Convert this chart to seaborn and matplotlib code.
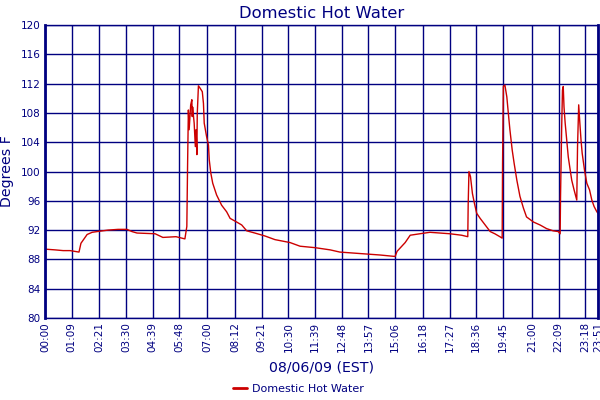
import seaborn as sns
import matplotlib.pyplot as plt
import pandas as pd

# minutes after midnight
minutes = [0, 26, 47, 65, 88, 93, 101, 109, 122, 135, 163, 189, 212, 225, 238, 285, 305, 339, 362,
           367, 369, 371, 373, 377, 380, 381, 382, 386, 389, 391, 393, 394, 397, 401, 407, 410, 412,
           418, 423, 425, 429, 434, 444, 457, 470, 479, 496, 509, 522, 543, 569, 595, 634, 660, 699,
           738, 763, 815, 867, 906, 911, 932, 945, 970, 996, 1048, 1078, 1094, 1095, 1097, 1101, 1106,
           1111, 1117, 1126, 1139, 1152, 1164, 1177, 1183, 1184, 1186, 1190, 1195, 1199, 1203, 1209,
           1214, 1221, 1229, 1238, 1246, 1264, 1281, 1298, 1315, 1328, 1333, 1334, 1337, 1339, 1341,
           1343, 1346, 1350, 1354, 1359, 1363, 1369, 1376, 1378, 1381, 1384, 1387, 1390, 1396, 1402,
           1409, 1415, 1421, 1428, 1431]
temps = [89.4, 89.3, 89.2, 89.2, 89.0, 90.2, 90.8, 91.4, 91.7, 91.8, 92.0, 92.1, 92.1, 91.8, 91.6,
         91.5, 91.0, 91.1, 90.8, 92.5, 101.1, 108.4, 105.7, 109.1, 109.8, 107.5, 108.8, 106.6, 103.4,
         105.7, 102.3, 107.9, 111.7, 111.4, 110.9, 109.3, 106.6, 104.8, 103.6, 101.6, 99.8, 98.4, 96.8,
         95.4, 94.5, 93.6, 93.1, 92.7, 91.9, 91.6, 91.2, 90.7, 90.3, 89.8, 89.6, 89.3, 89.0, 88.8, 88.6,
         88.4, 89.1, 90.3, 91.3, 91.5, 91.7, 91.5, 91.3, 91.1, 95.4, 100.0, 99.3, 97.0, 95.7, 94.3,
         93.6, 92.7, 91.8, 91.5, 91.1, 90.9, 101.1, 111.6, 111.8, 110.2, 107.9, 105.7, 102.9, 101.1,
         98.8, 96.6, 95.0, 93.8, 93.1, 92.7, 92.2, 91.9, 91.8, 91.5, 96.6, 106.1, 111.1, 111.6, 108.8,
         106.6, 104.3, 102.0, 100.2, 98.8, 97.5, 96.1, 103.4, 109.1, 106.6, 104.3, 102.5, 100.2, 98.4,
         97.5, 96.1, 95.2, 94.5, 94.3]

tick_labels = ["00:00", "01:09", "02:21", "03:30", "04:39", "05:48", "07:00", "08:12", "09:21",
               "10:30", "11:39", "12:48", "13:57", "15:06", "16:18", "17:27", "18:36", "19:45",
               "21:00", "22:09", "23:18", "23:51"]
y_ticks = [80, 84, 88, 92, 96, 100, 104, 108, 112, 116, 120]

NAVY = "#000080"
RED = "#CC0000"

def to_minutes(label):
    h, m = label.split(":")
    return int(h) * 60 + int(m)

df = pd.DataFrame({"minute": minutes, "Domestic Hot Water": temps})

sns.set_style("white")
plt.rcParams['font.family'] = ['DejaVu Sans']

fig = plt.figure(figsize=(6, 4), dpi=100)
ax = fig.add_axes([0.075, 0.205, 0.9217, 0.7325])

sns.lineplot(data=df, x="minute", y="Domestic Hot Water", color=RED, linewidth=1.0,
             label="Domestic Hot Water", ax=ax)

ax.set_xlim(0, to_minutes(tick_labels[-1]))
ax.set_ylim(80, 120)
ax.set_xticks([to_minutes(t) for t in tick_labels])
ax.set_xticklabels(tick_labels, rotation=90, fontsize=7.5, color=NAVY)
ax.set_yticks(y_ticks)
ax.set_yticklabels([str(v) for v in y_ticks], fontsize=7.5, color=NAVY)
ax.tick_params(length=0, pad=3)
ax.grid(True, color=NAVY, linewidth=1.0)
ax.set_axisbelow(True)
for side, lw in [("left", 2.0), ("right", 2.0), ("top", 1.0), ("bottom", 1.0)]:
    ax.spines[side].set_visible(True)
    ax.spines[side].set_color(NAVY)
    ax.spines[side].set_linewidth(lw)

ax.set_xlabel("08/06/09 (EST)", fontsize=10.2, color=NAVY, labelpad=6)
ax.set_ylabel("Degrees F", fontsize=10.2, color=NAVY, labelpad=5)
ax.set_title("Domestic Hot Water", fontsize=11.8, color=NAVY, pad=5)

# legend sits under the x label, roughly centred on the figure
handles, labels = ax.get_legend_handles_labels()
ax.get_legend().remove()
leg = fig.legend(handles, labels, loc="center", bbox_to_anchor=(0.497, 0.027),
                 frameon=False, fontsize=8, handlelength=1.3, handletextpad=0.4,
                 labelcolor=NAVY, borderpad=0)
for line in leg.get_lines():
    line.set_linewidth(2.0)

fig.savefig("out.png", dpi=100, facecolor="white")
